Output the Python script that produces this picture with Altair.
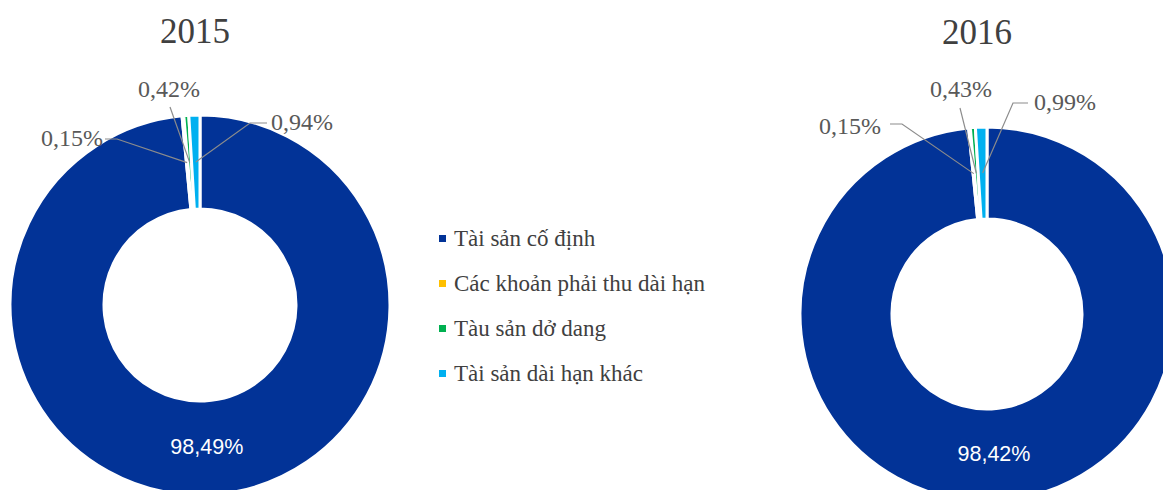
import math
import altair as alt
import pandas as pd

# ---------------- data ----------------
categories = ["Tài sản cố định", "Các khoản phải thu dài hạn", "Tàu sản dở dang", "Tài sản dài hạn khác"]
colors = ["#023397", "#FFC000", "#00B050", "#00B0F0"]
years = ["2015", "2016"]
values_2015 = [98.49, 0.15, 0.42, 0.94]
values_2016 = [98.42, 0.15, 0.43, 0.99]
values = {"2015": values_2015, "2016": values_2016}

# ---------------- layout (chart pixel coords) ----------------
donut = {
    "2015": dict(cx=192, cy=297, r_out=190, r_in=96, title=(187, 35)),
    "2016": dict(cx=979, cy=306, r_out=187, r_in=95, title=(969, 36)),
}
# small-slice labels: (category index, text x, text y, align, leader line points before slice point)
small_labels = {
    "2015": [
        (1, 95, 131, "right", [(97, 131), (109, 131)]),
        (2, 161, 82, "center", [(162, 99)]),
        (3, 263, 115, "left", [(259, 115), (242, 115)]),
    ],
    "2016": [
        (1, 873, 119, "right", [(882, 116), (894, 116)]),
        (2, 953, 82, "center", [(952, 100)]),
        (3, 1026, 95, "left", [(1020, 95), (1005, 95)]),
    ],
}


def fmt(v):
    return f"{v:.2f}".replace(".", ",") + "%"


def slice_point(year, idx):
    vals = values[year]
    total = sum(vals)
    cum = sum(vals[:idx]) + vals[idx] / 2
    ang = cum / total * 2 * math.pi
    d = donut[year]
    r = (d["r_in"] + d["r_out"]) / 2
    return d["cx"] + r * math.sin(ang), d["cy"] - r * math.cos(ang)


color_scale = alt.Scale(domain=categories, range=colors)
X = lambda f: alt.X(f, scale=None, axis=None)
Y = lambda f: alt.Y(f, scale=None, axis=None)

layers = []
for yi, year in enumerate(years):
    d = donut[year]
    df = pd.DataFrame({"category": categories, "value": values[year], "order": range(len(categories))})
    legend = alt.Legend(
        title=None, orient="none", legendX=423, legendY=219, symbolType="square",
        symbolSize=49, symbolStrokeWidth=0, labelFont="Liberation Serif", labelFontSize=23,
        labelColor="#404040", labelOffset=0, rowPadding=21, labelLimit=400, padding=0,
    ) if yi == 0 else None
    arc = alt.Chart(df).mark_arc(
        innerRadius=d["r_in"], outerRadius=d["r_out"], stroke="white", strokeWidth=3
    ).encode(
        theta=alt.Theta("value:Q", stack="normalize"),
        color=alt.Color("category:N", scale=color_scale, legend=legend),
        order=alt.Order("order:Q"),
        x=alt.value(d["cx"]),
        y=alt.value(d["cy"]),
    )
    layers.append(arc)

    # title
    tdf = pd.DataFrame({"t": [year], "x": [d["title"][0]], "y": [d["title"][1]]})
    layers.append(alt.Chart(tdf).mark_text(
        font="Liberation Serif", fontSize=35, color="#404040", align="center", baseline="alphabetic"
    ).encode(x=X("x:Q"), y=Y("y:Q"), text="t:N"))

    # big label
    bx, by = slice_point(year, 0)
    bdf = pd.DataFrame({"t": [fmt(values[year][0])], "x": [bx], "y": [by]})
    layers.append(alt.Chart(bdf).mark_text(
        font="Liberation Sans", fontSize=21.5, color="white", align="center", baseline="middle"
    ).encode(x=X("x:Q"), y=Y("y:Q"), text="t:N"))

    # small labels and leader lines
    line_rows = []
    for idx, tx, ty, align, pts in small_labels[year]:
        ldf = pd.DataFrame({"t": [fmt(values[year][idx])], "x": [tx], "y": [ty]})
        layers.append(alt.Chart(ldf).mark_text(
            font="Liberation Serif", fontSize=24, color="#595959", align=align, baseline="middle"
        ).encode(x=X("x:Q"), y=Y("y:Q"), text="t:N"))
        sx, sy = slice_point(year, idx)
        allpts = list(pts) + [(sx, sy)]
        for k, (px, py) in enumerate(allpts):
            line_rows.append({"id": f"{year}-{idx}", "k": k, "x": px, "y": py})
    layers.append(alt.Chart(pd.DataFrame(line_rows)).mark_line(
        color="#8c8c8c", strokeWidth=1.2
    ).encode(x=X("x:Q"), y=Y("y:Q"), detail="id:N", order="k:Q"))

chart = alt.layer(*layers).properties(
    width=1155, height=482, padding=0, autosize=alt.AutoSizeParams(type="none")
).configure_view(stroke=None)

chart.save("out.html", embed_options={"renderer": "svg", "actions": False})
